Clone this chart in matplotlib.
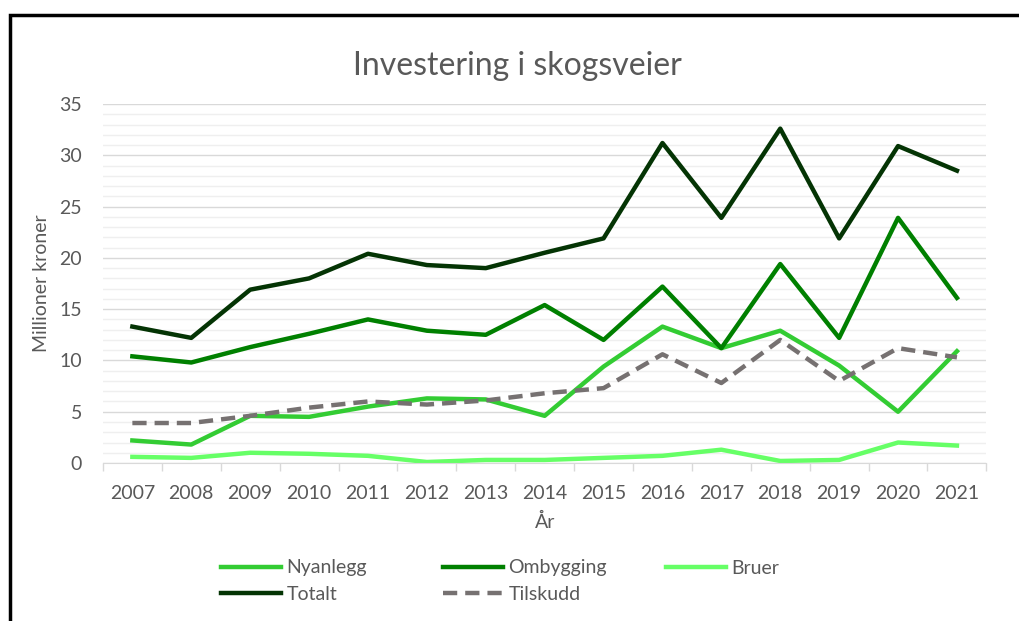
import matplotlib.pyplot as plt
from matplotlib.patches import Rectangle
from matplotlib.ticker import MultipleLocator

plt.rcParams['font.family'] = ['Lato', 'DejaVu Sans']

years = list(range(2007, 2022))
nyanlegg = [2.2, 1.8, 4.6, 4.5, 5.5, 6.3, 6.2, 4.6, 9.4, 13.3, 11.2, 12.9, 9.5, 5.0, 10.9]
ombygging = [10.4, 9.8, 11.3, 12.6, 14.0, 12.9, 12.5, 15.4, 12.0, 17.2, 11.2, 19.4, 12.2, 23.9, 16.1]
bruer = [0.6, 0.5, 1.0, 0.9, 0.7, 0.1, 0.3, 0.3, 0.5, 0.7, 1.3, 0.2, 0.3, 2.0, 1.7]
totalt = [13.3, 12.2, 16.9, 18.0, 20.4, 19.3, 19.0, 20.5, 21.9, 31.2, 23.9, 32.6, 21.9, 30.9, 28.5]
tilskudd = [3.9, 3.9, 4.6, 5.4, 6.0, 5.7, 6.1, 6.8, 7.3, 10.6, 7.8, 12.0, 8.0, 11.2, 10.3]

txt = '#595959'

fig = plt.figure(figsize=(10.19, 6.21), dpi=100)
ax = fig.add_axes([0.101, 0.2544, 0.867, 0.5781])

# frame round the chart (right and bottom edges fall outside the picture)
fig.patches.append(Rectangle((10 / 1019, -0.05), 1.1, 1.05 - 15 / 621,
                             transform=fig.transFigure, fill=False,
                             edgecolor='black', lw=2.5))

l_ny, = ax.plot(years, nyanlegg, color='#33cc33', lw=3.2, label='Nyanlegg')
l_om, = ax.plot(years, ombygging, color='#008000', lw=3.2, label='Ombygging')
l_br, = ax.plot(years, bruer, color='#66ff66', lw=3.2, label='Bruer')
l_to, = ax.plot(years, totalt, color='#043404', lw=3.2, label='Totalt')
l_ti, = ax.plot(years, tilskudd, color='#767171', lw=3.2, ls=(0, (3.2, 1.8)),
                label='Tilskudd')

ax.set_xlim(2006.5, 2021.5)
ax.set_ylim(0, 35)
ax.set_xticks(years)
ax.set_xticklabels([str(y) for y in years])
ax.set_xticks([y + 0.5 for y in [2006] + years], minor=True)
ax.tick_params(axis='x', which='major', length=0, pad=16, labelsize=14, labelcolor=txt)
ax.tick_params(axis='x', which='minor', length=6, color='#d9d9d9', width=1)
ax.set_yticks(range(0, 36, 5))
ax.yaxis.set_minor_locator(MultipleLocator(1))
ax.tick_params(axis='y', which='both', length=0, pad=15, labelsize=14, labelcolor=txt)
ax.grid(axis='y', which='major', color='#d9d9d9', lw=1)
ax.grid(axis='y', which='minor', color='#efefef', lw=1)
ax.set_axisbelow(True)
for s in ['top', 'right', 'left']:
    ax.spines[s].set_visible(False)
ax.spines['bottom'].set_color('#d9d9d9')

ax.set_title('Investering i skogsveier', fontsize=23, color=txt, pad=21,
             x=(517 - 103) / 883)
ax.set_ylabel('Millioner kroner', fontsize=14, color=txt, labelpad=7)
ax.set_xlabel('År', fontsize=14, color=txt, labelpad=8)

# legend in three fixed columns, like the original
cols = [([l_ny, l_to], 203), ([l_om, l_ti], 425), ([l_br], 648)]
for handles, x0 in cols:
    fig.legend(handles=handles, frameon=False, loc='upper left',
               bbox_to_anchor=(x0 / 1019, 1 - 542 / 621),
               fontsize=14, labelcolor=txt, handlelength=3.1,
               handletextpad=0.3, labelspacing=0.5)

fig.savefig('out.png', dpi=100)
